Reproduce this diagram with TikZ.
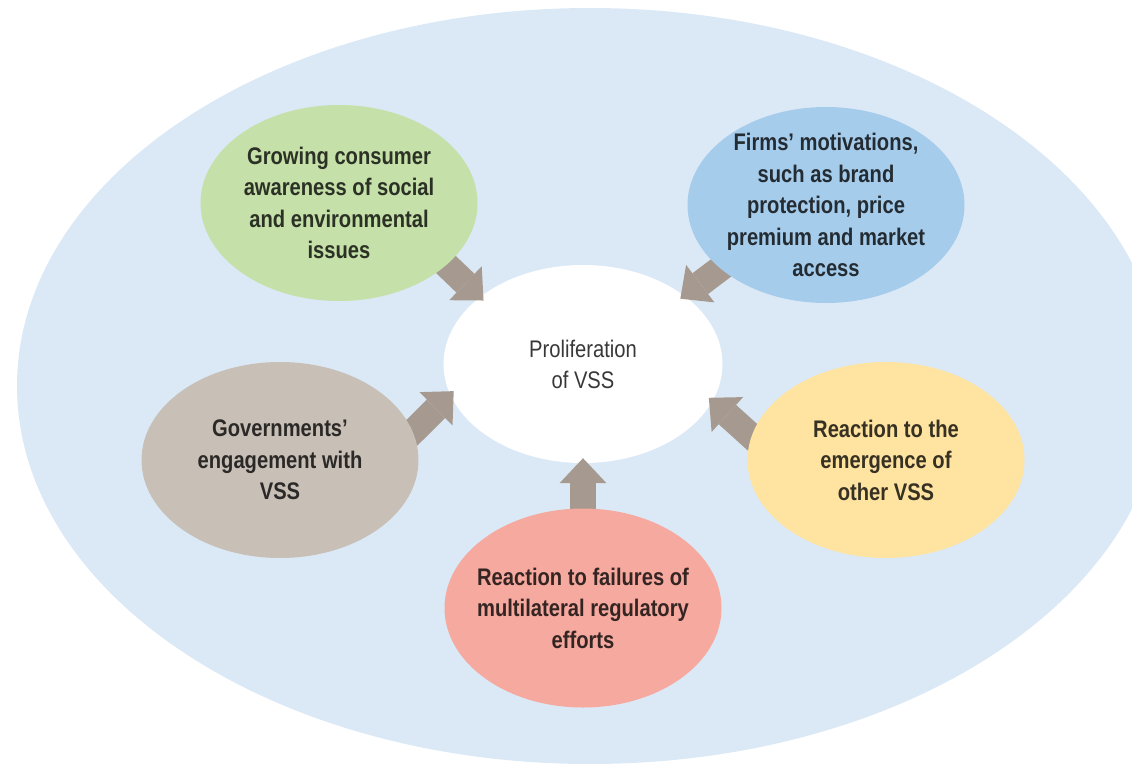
\documentclass[tikz,border=0pt]{standalone}
\usepackage{fontspec}
\setmainfont{Liberation Sans}[FakeStretch=0.84]
\usetikzlibrary{arrows.meta,shapes.geometric}
\definecolor{sky}{HTML}{DBE9F6}
\definecolor{leaf}{HTML}{C6E0A9}
\definecolor{azure}{HTML}{A6CCEC}
\definecolor{stone}{HTML}{C8BFB7}
\definecolor{sand}{HTML}{FEE3A1}
\definecolor{coral}{HTML}{F5A99F}
\definecolor{arrowc}{HTML}{A69A90}
\pgfdeclarelayer{back}
\pgfdeclarelayer{mid}
\pgfsetlayers{back,mid,main}
\begin{document}
\begin{tikzpicture}[x=1pt, y=-1pt, line join=round,
		blob/.style={ellipse, minimum width=277pt, minimum height=196pt, inner sep=-60pt, align=center,
			text=black, text opacity=.78, font=\fontsize{24}{31.5}\selectfont\bfseries},
		flow/.style={draw=arrowc, line width=26pt, shorten <=-16pt, shorten >=-5pt,
			-{Triangle[width=47pt,length=25pt,line width=0pt]}}]
	\useasboundingbox (0,0) rectangle (1132,763);
	\node[blob, fill=leaf] (consumer) at (339,203) {Growing consumer\\awareness of social\\and environmental\\issues};
	\node[blob, fill=azure] (firms) at (826,205) {Firms’ motivations,\\such as brand\\protection, price\\premium and market\\access};
	\node[blob, fill=stone] (govt) at (280,460) {Governments’\\engagement with\\VSS};
	\node[blob, fill=sand] (other) at (886,460) {Reaction to the\\emergence of\\other VSS};
	\node[blob, fill=coral, minimum height=199pt] (failures) at (583,608) {Reaction to failures of\\multilateral regulatory\\efforts};
	\begin{pgfonlayer}{back}
		\fill[sky] (590,386) ellipse [x radius=573pt, y radius=378pt];
		\node[blob, fill=white, minimum width=279pt, minimum height=198pt,
			font=\fontsize{24}{31}\selectfont] (hub) at (583,364) {Proliferation\\of VSS};
	\end{pgfonlayer}
	\begin{pgfonlayer}{mid}
		\foreach \s/\a/\b in {consumer/330/147, firms/211/34, govt/12/193, other/170/344, failures/90/270}
			\draw[flow] (\s.\a) -- (hub.\b);
	\end{pgfonlayer}
\end{tikzpicture}
\end{document}
